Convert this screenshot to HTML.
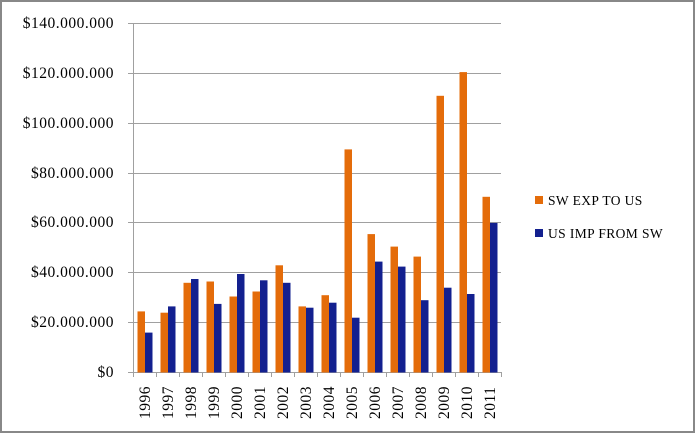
<!DOCTYPE html><html><head><style>body{margin:0;background:#fff}</style></head><body>
<svg width="695" height="433" xmlns="http://www.w3.org/2000/svg" font-family="Liberation Serif, serif">
<rect x="1" y="1" width="693" height="431" fill="#fff" stroke="#888" stroke-width="2"/>
<g stroke="#a0a0a0" stroke-width="1">
<line x1="128" y1="23.5" x2="501" y2="23.5"/><line x1="128" y1="73.5" x2="501" y2="73.5"/><line x1="128" y1="123.5" x2="501" y2="123.5"/><line x1="128" y1="173.5" x2="501" y2="173.5"/><line x1="128" y1="222.5" x2="501" y2="222.5"/><line x1="128" y1="272.5" x2="501" y2="272.5"/><line x1="128" y1="322.5" x2="501" y2="322.5"/><line x1="128" y1="372.5" x2="501" y2="372.5"/>
<line x1="133.5" y1="23" x2="133.5" y2="377"/>
<line x1="156.5" y1="372" x2="156.5" y2="377"/><line x1="179.5" y1="372" x2="179.5" y2="377"/><line x1="202.5" y1="372" x2="202.5" y2="377"/><line x1="225.5" y1="372" x2="225.5" y2="377"/><line x1="248.5" y1="372" x2="248.5" y2="377"/><line x1="271.5" y1="372" x2="271.5" y2="377"/><line x1="294.5" y1="372" x2="294.5" y2="377"/><line x1="317.5" y1="372" x2="317.5" y2="377"/><line x1="340.5" y1="372" x2="340.5" y2="377"/><line x1="363.5" y1="372" x2="363.5" y2="377"/><line x1="386.5" y1="372" x2="386.5" y2="377"/><line x1="409.5" y1="372" x2="409.5" y2="377"/><line x1="432.5" y1="372" x2="432.5" y2="377"/><line x1="455.5" y1="372" x2="455.5" y2="377"/><line x1="478.5" y1="372" x2="478.5" y2="377"/><line x1="501.5" y1="372" x2="501.5" y2="377"/>
</g>
<g font-size="15.5" letter-spacing="0.5" text-anchor="end" fill="#000">
<text x="114" y="28">$140.000.000</text><text x="114" y="78">$120.000.000</text><text x="114" y="128">$100.000.000</text><text x="114" y="178">$80.000.000</text><text x="114" y="227">$60.000.000</text><text x="114" y="277">$40.000.000</text><text x="114" y="327">$20.000.000</text><text x="114" y="377">$0</text>
</g>
<g fill="#e46c0a">
<rect x="137.5" y="311.4" width="7.5" height="61.1"/>
<rect x="160.5" y="312.7" width="7.5" height="59.8"/>
<rect x="183.5" y="282.8" width="7.5" height="89.7"/>
<rect x="206.5" y="281.5" width="7.5" height="91"/>
<rect x="229.5" y="296.5" width="7.5" height="76"/>
<rect x="252.5" y="291.5" width="7.5" height="81"/>
<rect x="275.5" y="265.3" width="7.5" height="107.2"/>
<rect x="298.5" y="306.4" width="7.5" height="66.1"/>
<rect x="321.5" y="295.2" width="7.5" height="77.3"/>
<rect x="344.5" y="149.4" width="7.5" height="223.1"/>
<rect x="367.5" y="234.1" width="7.5" height="138.4"/>
<rect x="390.5" y="246.6" width="7.5" height="125.9"/>
<rect x="413.5" y="256.6" width="7.5" height="115.9"/>
<rect x="436.5" y="95.8" width="7.5" height="276.7"/>
<rect x="459.5" y="72.1" width="7.5" height="300.4"/>
<rect x="482.5" y="196.8" width="7.5" height="175.7"/>
</g>
<g fill="#13208f">
<rect x="145" y="332.6" width="7.5" height="39.9"/>
<rect x="168" y="306.4" width="7.5" height="66.1"/>
<rect x="191" y="279" width="7.5" height="93.5"/>
<rect x="214" y="303.9" width="7.5" height="68.6"/>
<rect x="237" y="274" width="7.5" height="98.5"/>
<rect x="260" y="280.3" width="7.5" height="92.2"/>
<rect x="283" y="282.8" width="7.5" height="89.7"/>
<rect x="306" y="307.7" width="7.5" height="64.8"/>
<rect x="329" y="302.7" width="7.5" height="69.8"/>
<rect x="352" y="317.7" width="7.5" height="54.8"/>
<rect x="375" y="261.6" width="7.5" height="110.9"/>
<rect x="398" y="266.6" width="7.5" height="105.9"/>
<rect x="421" y="300.2" width="7.5" height="72.3"/>
<rect x="444" y="287.7" width="7.5" height="84.8"/>
<rect x="467" y="294" width="7.5" height="78.5"/>
<rect x="490" y="222.9" width="7.5" height="149.6"/>
</g>
<g font-size="15.5" letter-spacing="0.5">
<text transform="translate(150,419) rotate(-90)">1996</text>
<text transform="translate(173,419) rotate(-90)">1997</text>
<text transform="translate(196,419) rotate(-90)">1998</text>
<text transform="translate(219,419) rotate(-90)">1999</text>
<text transform="translate(242,419) rotate(-90)">2000</text>
<text transform="translate(265,419) rotate(-90)">2001</text>
<text transform="translate(288,419) rotate(-90)">2002</text>
<text transform="translate(311,419) rotate(-90)">2003</text>
<text transform="translate(334,419) rotate(-90)">2004</text>
<text transform="translate(357,419) rotate(-90)">2005</text>
<text transform="translate(380,419) rotate(-90)">2006</text>
<text transform="translate(403,419) rotate(-90)">2007</text>
<text transform="translate(426,419) rotate(-90)">2008</text>
<text transform="translate(449,419) rotate(-90)">2009</text>
<text transform="translate(472,419) rotate(-90)">2010</text>
<text transform="translate(495,419) rotate(-90)">2011</text>
</g>
<rect x="535" y="196" width="8" height="8" fill="#e46c0a"/>
<text x="548" y="205" font-size="13.5" letter-spacing="0.4">SW EXP TO US</text>
<rect x="535" y="229" width="8" height="8" fill="#13208f"/>
<text x="548" y="238" font-size="13.5" letter-spacing="0.4">US IMP FROM SW</text>
</svg></body></html>
